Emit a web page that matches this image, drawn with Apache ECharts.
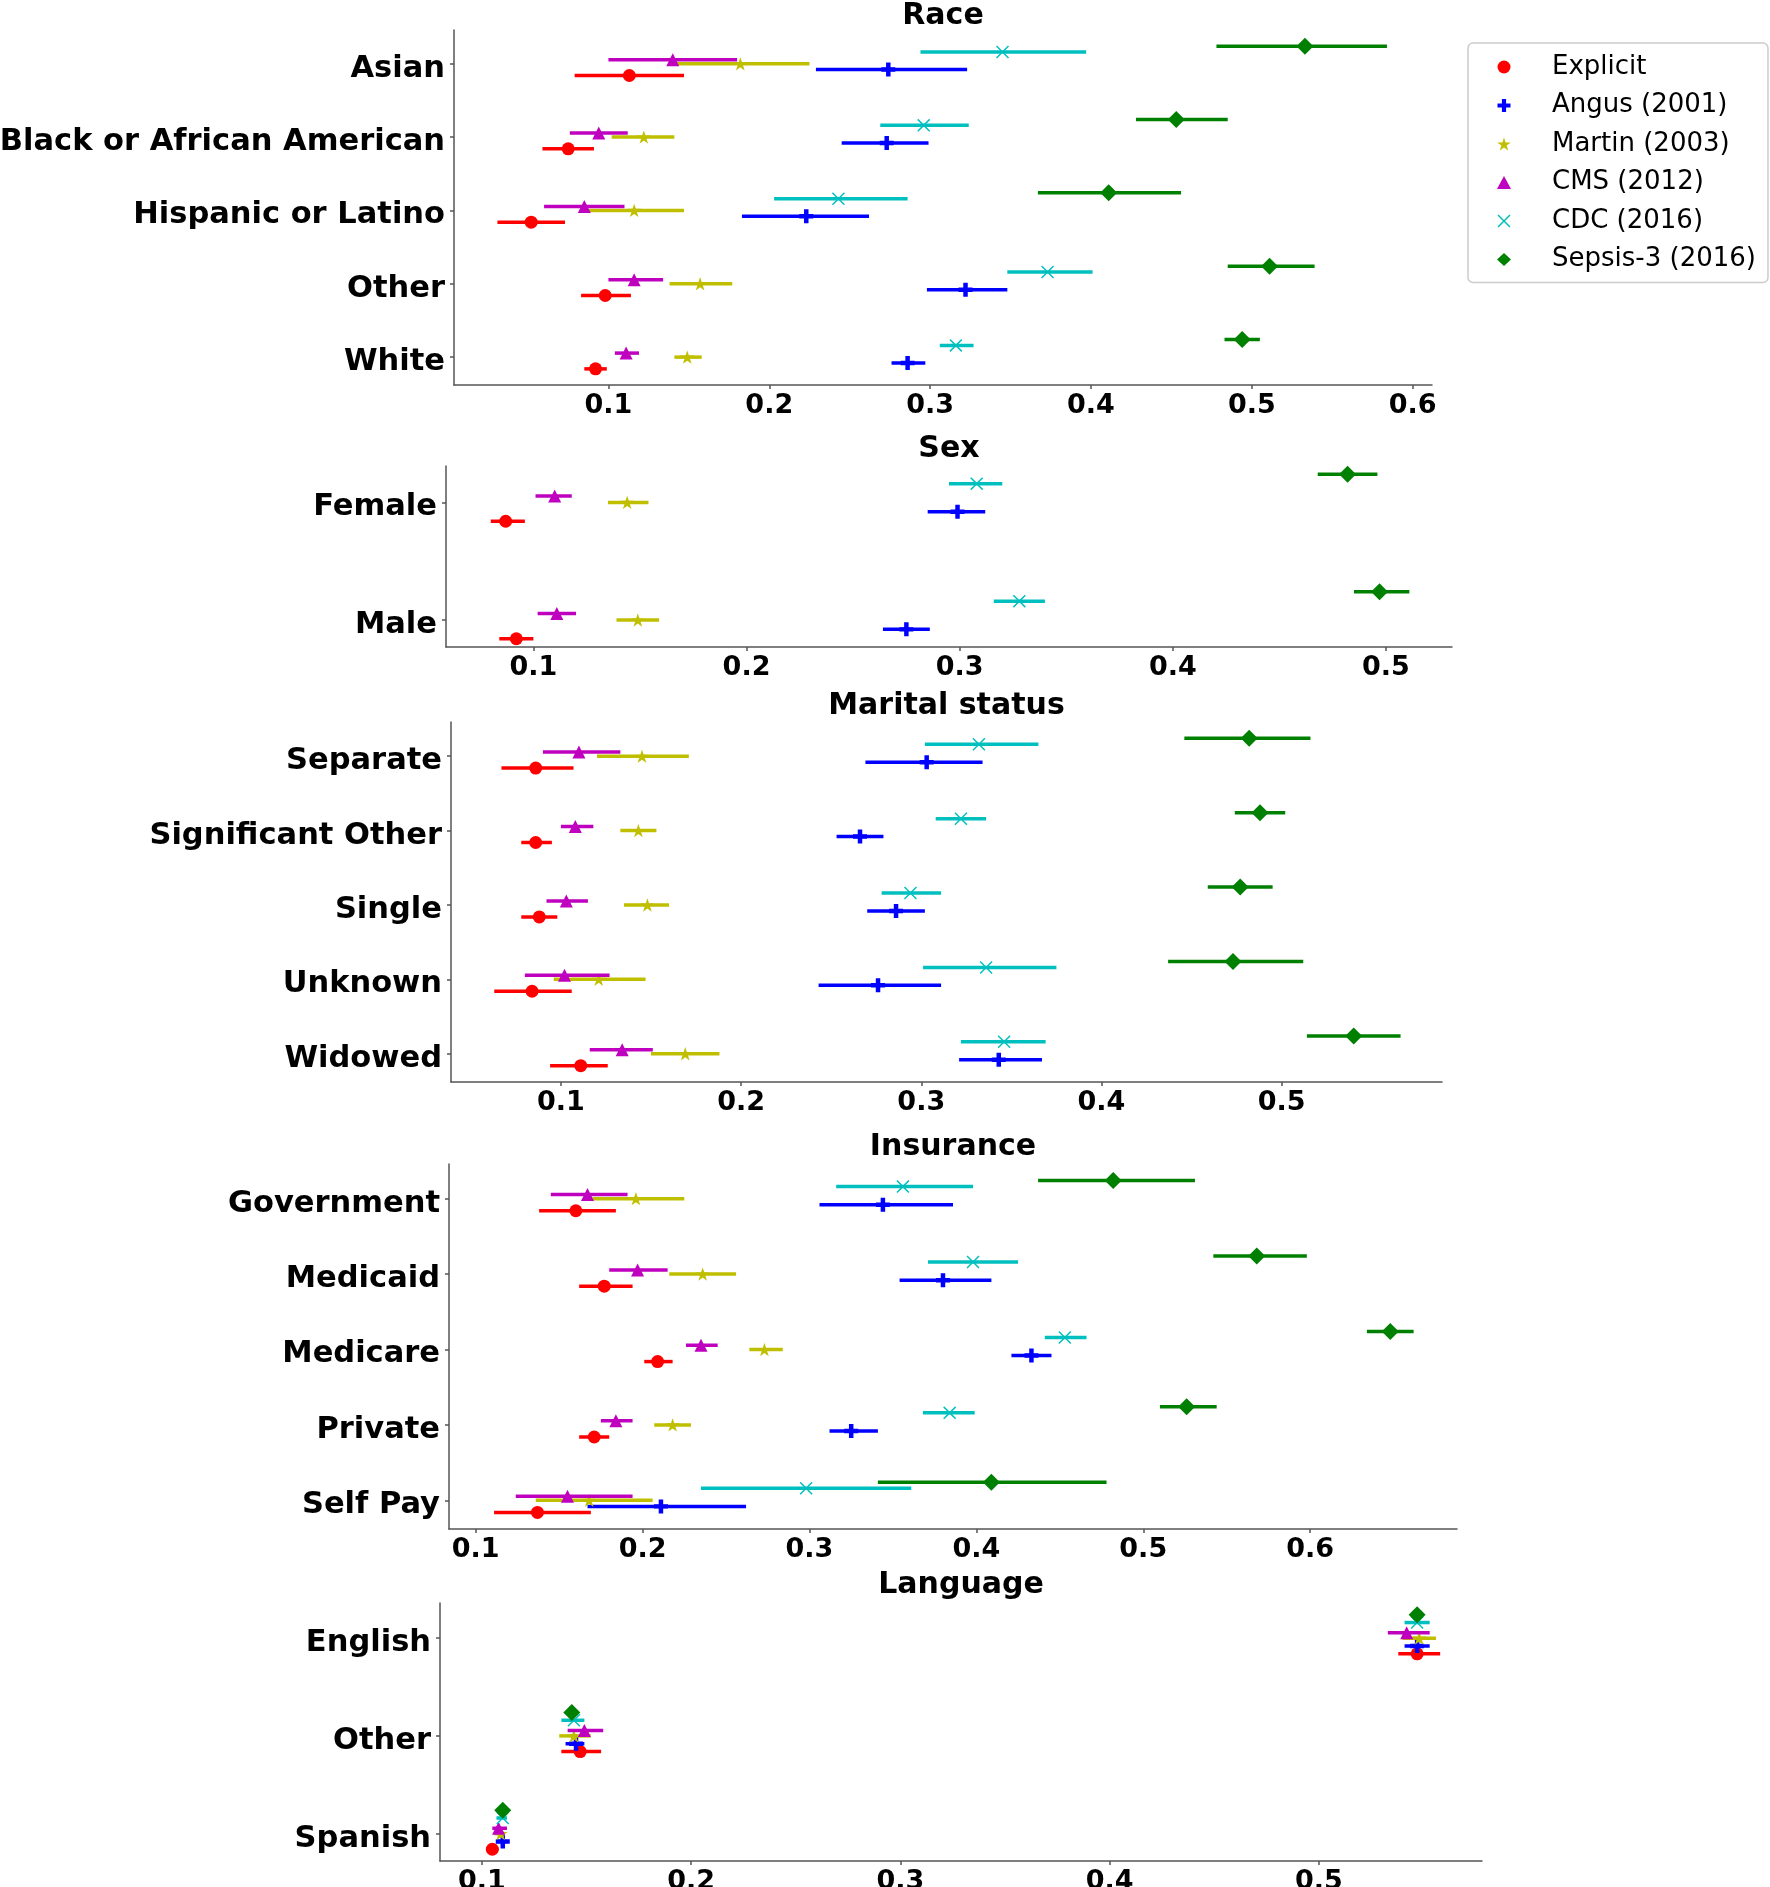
<!DOCTYPE html>
<html>
<head>
<meta charset="utf-8">
<script src="https://cdn.jsdelivr.net/npm/echarts@6/dist/echarts.min.js"></script>
<style>
html, body { margin: 0; padding: 0; background: #fff; }
#chart { width: 1770px; height: 1887px; }
</style>
</head>
<body>
<div id="chart"></div>
<script>
// each row: [estimate, lower, upper]
const methods = ['Explicit', 'Angus (2001)', 'Martin (2003)', 'CMS (2012)', 'CDC (2016)', 'Sepsis-3 (2016)'];

const raceCats = ['Asian', 'Black or African American', 'Hispanic or Latino', 'Other', 'White'];
const raceExplicit = [[0.113, 0.079, 0.147], [0.075, 0.059, 0.091], [0.052, 0.031, 0.073], [0.098, 0.083, 0.114], [0.092, 0.085, 0.099]];
const raceAngus = [[0.274, 0.229, 0.323], [0.273, 0.245, 0.299], [0.223, 0.183, 0.262], [0.322, 0.298, 0.348], [0.286, 0.276, 0.297]];
const raceMartin = [[0.182, 0.139, 0.225], [0.122, 0.102, 0.141], [0.116, 0.088, 0.147], [0.157, 0.138, 0.177], [0.149, 0.141, 0.158]];
const raceCms = [[0.140, 0.100, 0.180], [0.094, 0.076, 0.112], [0.085, 0.060, 0.110], [0.116, 0.100, 0.134], [0.111, 0.104, 0.119]];
const raceCdc = [[0.345, 0.294, 0.397], [0.296, 0.269, 0.324], [0.243, 0.203, 0.286], [0.373, 0.348, 0.401], [0.316, 0.306, 0.327]];
const raceSepsis = [[0.533, 0.478, 0.584], [0.453, 0.428, 0.485], [0.411, 0.367, 0.456], [0.511, 0.485, 0.539], [0.494, 0.483, 0.505]];

const sexCats = ['Female', 'Male'];
const sexExplicit = [[0.087, 0.080, 0.096], [0.092, 0.084, 0.100]];
const sexAngus = [[0.299, 0.285, 0.312], [0.275, 0.264, 0.286]];
const sexMartin = [[0.144, 0.135, 0.154], [0.149, 0.139, 0.159]];
const sexCms = [[0.110, 0.101, 0.118], [0.111, 0.102, 0.120]];
const sexCdc = [[0.308, 0.295, 0.320], [0.328, 0.316, 0.340]];
const sexSepsis = [[0.482, 0.468, 0.496], [0.497, 0.485, 0.511]];

const maritalCats = ['Separate', 'Significant Other', 'Single', 'Unknown', 'Widowed'];
const maritalExplicit = [[0.086, 0.067, 0.107], [0.086, 0.078, 0.095], [0.088, 0.078, 0.098], [0.084, 0.063, 0.106], [0.111, 0.094, 0.126]];
const maritalAngus = [[0.303, 0.269, 0.334], [0.266, 0.253, 0.279], [0.286, 0.270, 0.302], [0.276, 0.243, 0.311], [0.343, 0.321, 0.367]];
const maritalMartin = [[0.145, 0.120, 0.171], [0.143, 0.133, 0.153], [0.148, 0.135, 0.160], [0.121, 0.096, 0.147], [0.169, 0.150, 0.188]];
const maritalCms = [[0.110, 0.090, 0.133], [0.108, 0.100, 0.118], [0.103, 0.092, 0.115], [0.102, 0.080, 0.127], [0.134, 0.116, 0.151]];
const maritalCdc = [[0.332, 0.302, 0.365], [0.322, 0.308, 0.336], [0.294, 0.278, 0.311], [0.336, 0.301, 0.375], [0.346, 0.322, 0.369]];
const maritalSepsis = [[0.482, 0.446, 0.516], [0.488, 0.474, 0.502], [0.477, 0.459, 0.495], [0.473, 0.437, 0.512], [0.540, 0.514, 0.566]];

const insuranceCats = ['Government', 'Medicaid', 'Medicare', 'Private', 'Self Pay'];
const insuranceExplicit = [[0.160, 0.138, 0.184], [0.177, 0.162, 0.194], [0.209, 0.201, 0.218], [0.171, 0.162, 0.180], [0.137, 0.111, 0.169]];
const insuranceAngus = [[0.344, 0.306, 0.386], [0.380, 0.354, 0.409], [0.433, 0.421, 0.445], [0.325, 0.312, 0.341], [0.211, 0.167, 0.262]];
const insuranceMartin = [[0.196, 0.170, 0.225], [0.236, 0.216, 0.256], [0.273, 0.264, 0.284], [0.218, 0.207, 0.229], [0.168, 0.136, 0.206]];
const insuranceCms = [[0.167, 0.145, 0.191], [0.197, 0.180, 0.215], [0.235, 0.226, 0.245], [0.184, 0.175, 0.194], [0.155, 0.124, 0.194]];
const insuranceCdc = [[0.356, 0.316, 0.398], [0.398, 0.371, 0.425], [0.453, 0.441, 0.466], [0.384, 0.368, 0.399], [0.298, 0.235, 0.361]];
const insuranceSepsis = [[0.482, 0.437, 0.531], [0.568, 0.542, 0.598], [0.648, 0.634, 0.662], [0.526, 0.510, 0.544], [0.409, 0.341, 0.478]];

const languageCats = ['English', 'Other', 'Spanish'];
const languageExplicit = [[0.547, 0.538, 0.558], [0.147, 0.138, 0.157], [0.105, 0.102, 0.108]];
const languageAngus = [[0.547, 0.541, 0.553], [0.145, 0.140, 0.149], [0.110, 0.107, 0.112]];
const languageMartin = [[0.548, 0.540, 0.556], [0.144, 0.137, 0.152], [0.109, 0.106, 0.111]];
const languageCms = [[0.542, 0.533, 0.553], [0.149, 0.141, 0.158], [0.108, 0.105, 0.112]];
const languageCdc = [[0.547, 0.541, 0.553], [0.144, 0.138, 0.149], [0.110, 0.107, 0.112]];
const languageSepsis = [[0.547, 0.545, 0.549], [0.143, 0.141, 0.145], [0.110, 0.109, 0.111]];

const ticks5 = [0.1, 0.2, 0.3, 0.4, 0.5];
const ticks6 = [0.1, 0.2, 0.3, 0.4, 0.5, 0.6];

// ---- styling ----
const colors = ['#ff0000', '#0000ff', '#bfbf00', '#bf00bf', '#00bfbf', '#008000'];
const symbols = [
    'circle',
    'path://M34,0H66V34H100V66H66V100H34V66H0V34H34Z',
    'path://M50,0L61.23,34.55L97.55,34.55L68.16,55.9L79.39,90.45L50,69.1L20.61,90.45L31.84,55.9L2.45,34.55L38.77,34.55Z',
    'triangle',
    'path://M0,8L8,0L50,42L92,0L100,8L58,50L100,92L92,100L50,58L8,100L0,92L42,50Z',
    'diamond'
];
const sizes = [13, 14, 14, 13, 13, 17];
const offsets = [0.16, 0.08, 0, -0.055, -0.16, -0.24];
const FONT = 'DejaVu Sans';

const panels = [
    { title: 'Race', cats: raceCats, rows: [raceExplicit, raceAngus, raceMartin, raceCms, raceCdc, raceSepsis],
      grid: { left: 454, top: 30, width: 978, height: 355 }, xMin: 0.004, xMax: 0.612, ticks: ticks6, titleY: 16 },
    { title: 'Sex', cats: sexCats, rows: [sexExplicit, sexAngus, sexMartin, sexCms, sexCdc, sexSepsis],
      grid: { left: 446, top: 466, width: 1006, height: 181 }, xMin: 0.059, xMax: 0.531, ticks: ticks5, titleY: 449 },
    { title: 'Marital status', cats: maritalCats, rows: [maritalExplicit, maritalAngus, maritalMartin, maritalCms, maritalCdc, maritalSepsis],
      grid: { left: 451, top: 722, width: 991, height: 360 }, xMin: 0.039, xMax: 0.589, ticks: ticks5, titleY: 706 },
    { title: 'Insurance', cats: insuranceCats, rows: [insuranceExplicit, insuranceAngus, insuranceMartin, insuranceCms, insuranceCdc, insuranceSepsis],
      grid: { left: 449, top: 1164, width: 1008, height: 365 }, xMin: 0.084, xMax: 0.688, ticks: ticks6, titleY: 1147 },
    { title: 'Language', cats: languageCats, rows: [languageExplicit, languageAngus, languageMartin, languageCms, languageCdc, languageSepsis],
      grid: { left: 440, top: 1603, width: 1042, height: 258 }, xMin: 0.080, xMax: 0.578, ticks: ticks5, titleY: 1585 }
];

const axisLine = { show: true, onZero: false, lineStyle: { color: '#555', width: 1.5 } };
const axisTick = { show: true, length: 4, lineStyle: { color: '#555', width: 1.5 } };

const grids = [], xAxes = [], yAxes = [], series = [], titles = [];

panels.forEach((p, pi) => {
    grids.push(Object.assign({ outerBoundsMode: 'none' }, p.grid));
    xAxes.push({
        type: 'value', gridIndex: pi, min: p.xMin, max: p.xMax,
        axisLine: axisLine,
        axisTick: Object.assign({ customValues: p.ticks }, axisTick),
        axisLabel: { customValues: p.ticks, formatter: v => v.toFixed(1), margin: 7,
            fontSize: 27, fontWeight: 'bold', fontFamily: FONT, color: '#000' },
        splitLine: { show: false }
    });
    // same 5% padding rule as the original plot
    const lo = -0.24, hi = p.cats.length - 1 + 0.16, pad = (hi - lo) * 0.05;
    const idx = p.cats.map((c, i) => i);
    yAxes.push({
        type: 'value', gridIndex: pi, inverse: true, min: lo - pad, max: hi + pad,
        axisLine: axisLine,
        axisTick: Object.assign({ customValues: idx }, axisTick),
        // small line box anchored at the top: pushes the label a few px below the tick
        axisLabel: { customValues: idx, formatter: v => p.cats[Math.round(v)], margin: 9,
            verticalAlign: 'top', lineHeight: 10,
            fontSize: 30.5, fontWeight: 'bold', fontFamily: FONT, color: '#000' },
        splitLine: { show: false }
    });
    titles.push({
        type: 'text', x: p.grid.left + p.grid.width / 2, y: p.titleY,
        style: { text: p.title, fill: '#000', font: 'bold 30px "DejaVu Sans"', align: 'center', verticalAlign: 'middle' }
    });

    p.rows.forEach((rows, mi) => {
        const color = colors[mi];
        series.push({
            type: 'custom', name: methods[mi], xAxisIndex: pi, yAxisIndex: pi, z: 2 + 2 * mi, silent: true,
            itemStyle: { color: color },
            data: rows.map((r, i) => [i + offsets[mi], r[1], r[2]]),
            encode: { x: [1, 2], y: 0 },
            renderItem: (params, api) => {
                const a = api.coord([api.value(1), api.value(0)]);
                const b = api.coord([api.value(2), api.value(0)]);
                return { type: 'line', shape: { x1: a[0], y1: a[1], x2: b[0], y2: b[1] },
                         style: { stroke: color, lineWidth: 3.5 } };
            }
        });
        series.push({
            type: 'scatter', name: methods[mi], xAxisIndex: pi, yAxisIndex: pi, z: 3 + 2 * mi, silent: true,
            symbol: symbols[mi], symbolSize: sizes[mi], symbolKeepAspect: true,
            itemStyle: { color: color, opacity: 1 },
            data: rows.map((r, i) => [r[0], i + offsets[mi]])
        });
    });
});

const chart = echarts.init(document.getElementById('chart'), null, { renderer: 'canvas' });
chart.setOption({
    animation: false,
    backgroundColor: '#fff',
    grid: grids,
    xAxis: xAxes,
    yAxis: yAxes,
    graphic: titles,
    legend: {
        orient: 'vertical', left: 1468, top: 43,
        padding: [11, 12, 10, 29], itemGap: 12.5, itemWidth: 14, itemHeight: 13,
        selectedMode: false,
        borderColor: '#ccc', borderWidth: 1.5, borderRadius: 5, backgroundColor: '#fff',
        textStyle: { fontSize: 26, fontFamily: FONT, color: '#000', padding: [0, 0, 0, 36] },
        data: methods.map((m, i) => ({ name: m, icon: symbols[i], itemStyle: { color: colors[i] } }))
    },
    series: series
});
</script>
</body>
</html>
